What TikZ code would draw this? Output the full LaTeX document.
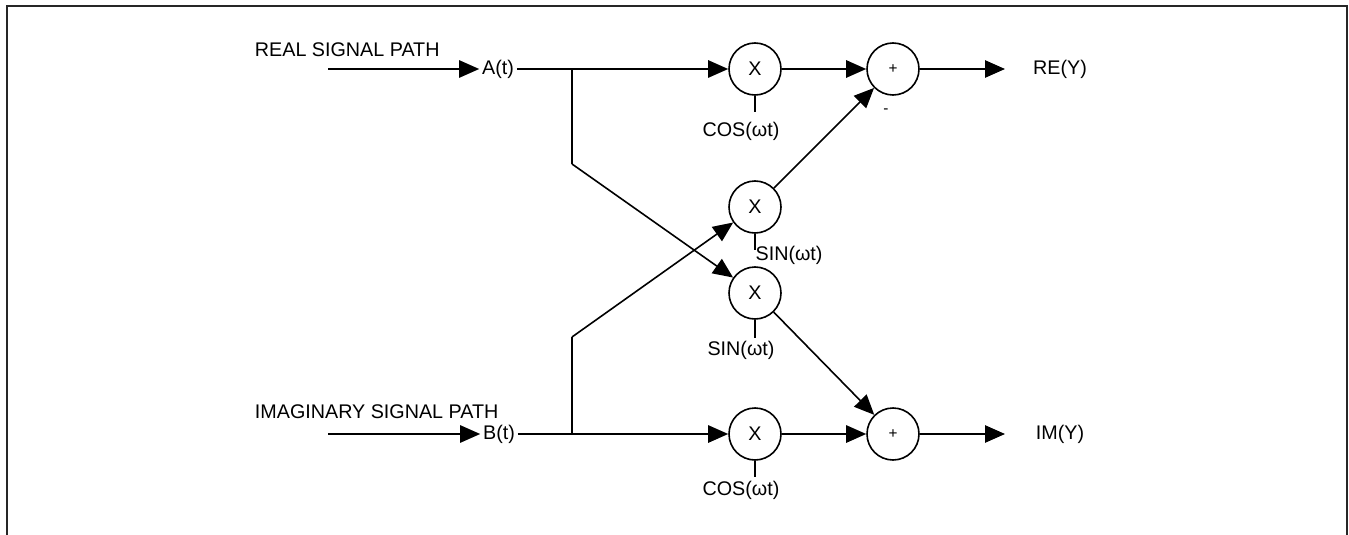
\documentclass[tikz,border=0pt]{standalone}
\usepackage{fontspec}
\setmainfont{Liberation Sans}
\usetikzlibrary{arrows.meta}

\begin{document}
\begin{tikzpicture}[x=0.75pt, y=-0.75pt,
      mix/.style={draw, circle, line width=1.2pt, minimum size=39pt, inner sep=0pt, font=\fontsize{14.8}{16}\selectfont},
      sum/.style={draw, circle, line width=1.2pt, minimum size=39pt, inner sep=0pt, font=\fontsize{11.5}{12}\selectfont},
      lbl/.style={font=\fontsize{14.8}{16}\selectfont, inner sep=2pt},
      arr/.style={-{Triangle[length=15pt, width=13pt]}, line width=1.2pt},
      wire/.style={line width=1.2pt}]
    \useasboundingbox (0,0) rectangle (1349,535);
    \draw[line width=1.6pt, black!85] (7,535) -- (7,6) -- (1347,6) -- (1347,535);
    % inputs
    \node[lbl, anchor=west] (realtxt) at (252,50) {REAL SIGNAL PATH};
    \node[lbl, anchor=west] (imagtxt) at (252,412) {IMAGINARY SIGNAL PATH};
    \coordinate (inA) at (328,69);
    \coordinate (inB) at (328,434);
    \node[lbl] (a) at (498,69) {A(t)};
    \node[lbl] (b) at (499,434) {B(t)};
    \draw[arr] (inA) -- (a);
    \draw[arr] (inB) -- (b);
    % mixers and adders
    \node[mix] (mA) at (755,69) {X};
    \node[mix] (mS1) at (755,207) {X};
    \node[mix] (mS2) at (755,293) {X};
    \node[mix] (mB) at (755,434) {X};
    \node[sum] (sA) at (893,69) {+};
    \node[sum] (sB) at (893,434) {+};
    % carrier ticks and labels
    \coordinate (tA) at (755,112);
    \coordinate (tS1) at (755,250);
    \coordinate (tS2) at (755,338);
    \coordinate (tB) at (755,477);
    \foreach \m/\t in {mA/tA, mS1/tS1, mS2/tS2, mB/tB} \draw[wire] (\m.south) -- (\t);
    \node[lbl] (cosA) at (741,131) {COS(ωt)};
    \node[lbl, anchor=west, inner sep=1pt] (sin1) at (754,255) {SIN(ωt)};
    \node[lbl] (sin2) at (741,350) {SIN(ωt)};
    \node[lbl] (cosB) at (741,490) {COS(ωt)};
    \node[font=\fontsize{11.5}{12}\selectfont] (minus) at (886,111) {-};
    % cross paths
    \coordinate (jA) at (572,69);
    \coordinate (kA) at (572,164);
    \coordinate (jB) at (572,434);
    \coordinate (kB) at (572,337);
    \draw[arr] (a) -- (mA);
    \draw[arr] (b) -- (mB);
    \draw[wire] (jA) -- (kA);
    \draw[arr] (kA) -- (mS2);
    \draw[wire] (jB) -- (kB);
    \draw[arr] (kB) -- (mS1);
    \draw[arr] (mA) -- (sA);
    \draw[arr] (mB) -- (sB);
    \draw[arr] (mS1) -- (sA);
    \draw[arr] (mS2) -- (sB);
    % outputs
    \coordinate (oA) at (1005,69);
    \coordinate (oB) at (1005,434);
    \draw[arr] (sA) -- (oA);
    \draw[arr] (sB) -- (oB);
    \node[lbl] (re) at (1060,69) {RE(Y)};
    \node[lbl] (im) at (1060,434) {IM(Y)};
  \end{tikzpicture}
\end{document}
